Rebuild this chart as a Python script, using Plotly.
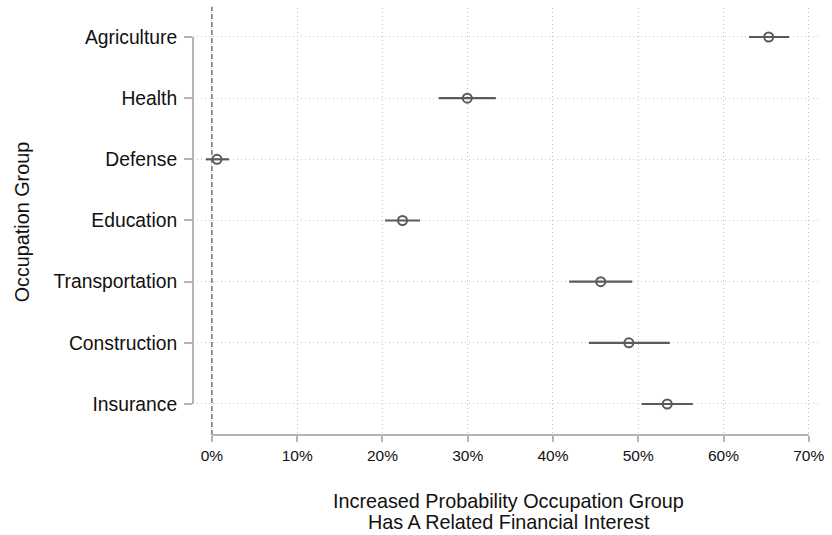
import plotly.graph_objects as go

categories = ["Insurance", "Construction", "Transportation", "Education", "Defense", "Health", "Agriculture"]
estimate = [0.534, 0.489, 0.456, 0.2235, 0.006, 0.2995, 0.653]
ci_low = [0.504, 0.442, 0.419, 0.203, -0.007, 0.266, 0.630]
ci_high = [0.564, 0.537, 0.493, 0.244, 0.020, 0.333, 0.677]
x_ticks = [0, 0.1, 0.2, 0.3, 0.4, 0.5, 0.6, 0.7]
x_labels = ["0%", "10%", "20%", "30%", "40%", "50%", "60%", "70%"]

ypos = list(range(len(categories)))
err_plus = [h - e for h, e in zip(ci_high, estimate)]
err_minus = [e - l for e, l in zip(estimate, ci_low)]

dark = "#5a5a5a"
axis_gray = "#b4b4b4"
grid_gray = "#c4c4c4"
font = "Liberation Sans, Arial, Helvetica, sans-serif"

fig = go.Figure()
fig.add_trace(go.Scatter(
    x=estimate, y=ypos, mode="markers",
    marker=dict(symbol="circle-open", size=9, color=dark, line=dict(width=2, color=dark)),
    error_x=dict(type="data", array=err_plus, arrayminus=err_minus, symmetric=False,
                 color=dark, thickness=2.2, width=0),
    showlegend=False,
))

# zero reference line
fig.add_shape(type="line", xref="x", yref="paper", x0=0, x1=0, y0=0, y1=1.003,
              line=dict(color="#555555", width=1.2, dash="5px,3px"), layer="above")
# axis lines spanning the data range only
fig.add_shape(type="line", xref="paper", yref="y", x0=0, x1=0, y0=0, y1=len(categories) - 1,
              line=dict(color=axis_gray, width=2))
fig.add_shape(type="line", xref="x", yref="paper", x0=0, x1=0.7, y0=0, y1=0,
              line=dict(color=axis_gray, width=2))

fig.update_layout(
    width=832, height=535,
    margin=dict(l=193, r=10, t=8, b=100),
    paper_bgcolor="white", plot_bgcolor="white",
    font=dict(family=font, color="#111111"),
    xaxis=dict(
        range=[-0.0222, 0.712], tickvals=x_ticks, ticktext=x_labels,
        showgrid=True, gridcolor=grid_gray, griddash="1px,3px", gridwidth=1,
        zeroline=False, showline=False,
        ticks="outside", ticklen=6, tickcolor=axis_gray, tickwidth=1.5,
        tickfont=dict(size=15.5, family=font, color="#111111"),
    ),
    yaxis=dict(
        range=[-0.507, 6.474], tickvals=ypos, ticktext=categories,
        showgrid=True, gridcolor=grid_gray, griddash="1px,3px", gridwidth=1,
        zeroline=False, showline=False,
        ticks="outside", ticklen=8, tickcolor=axis_gray, tickwidth=1.5,
        tickfont=dict(size=19.3, family=font, color="#111111"),
        ticklabelstandoff=3,
    ),
    annotations=[
        dict(text="Increased Probability Occupation Group",
             xref="paper", yref="paper", x=0.504, y=-0.1546, xanchor="center", yanchor="middle",
             showarrow=False, font=dict(size=19.8, family=font, color="#111111")),
        dict(text="Has A Related Financial Interest",
             xref="paper", yref="paper", x=0.504, y=-0.2037, xanchor="center", yanchor="middle",
             showarrow=False, font=dict(size=19.8, family=font, color="#111111")),
        dict(text="Occupation Group", xref="paper", yref="paper", x=-0.2734, y=0.5,
             xanchor="center", yanchor="middle", textangle=-90, showarrow=False,
             font=dict(size=19.8, family=font, color="#111111")),
    ],
)

fig.write_html("out.html")
